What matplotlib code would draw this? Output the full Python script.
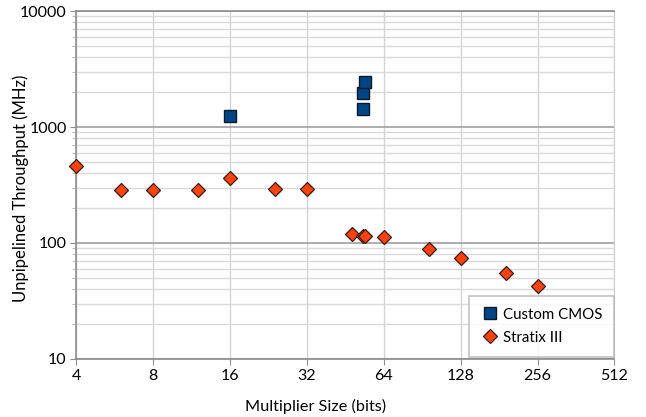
import matplotlib.pyplot as plt
from matplotlib.ticker import FixedLocator, LogLocator, NullFormatter

plt.rcParams['font.family'] = ['Lato', 'DejaVu Sans']

# Multiplier width (bits) vs. unpipelined throughput (MHz)
cmos_bits = [16, 53, 53, 54]
cmos_mhz = [1236, 1420, 1950, 2460]

stratix_bits = [4, 6, 8, 12, 16, 24, 32, 48, 53, 54, 64, 96, 128, 192, 256]
stratix_mhz = [464, 288, 288, 288, 363, 294, 294, 119, 116, 116, 113, 89, 74, 55, 43]

x_ticks = [4, 8, 16, 32, 64, 128, 256, 512]
y_ticks = [10, 100, 1000, 10000]

fig = plt.figure(figsize=(6.46, 4.17), dpi=100)
ax = fig.add_axes([0.1184, 0.1391, 0.8328, 0.8345])

ax.set_xscale('log', base=2)
ax.set_yscale('log')
ax.set_xlim(4, 512)
ax.set_ylim(10, 10000)

ax.xaxis.set_major_locator(FixedLocator(x_ticks))
ax.set_xticklabels([str(v) for v in x_ticks])
ax.xaxis.set_minor_locator(FixedLocator([]))
ax.yaxis.set_major_locator(FixedLocator(y_ticks))
ax.set_yticklabels([str(v) for v in y_ticks])
ax.yaxis.set_minor_locator(LogLocator(base=10, subs=range(2, 10)))
ax.yaxis.set_minor_formatter(NullFormatter())

ax.grid(True, axis='x', which='major', color='#d4d4d4', lw=1)
ax.grid(True, axis='y', which='major', color='#a0a0a0', lw=1.2)
ax.grid(True, axis='y', which='minor', color='#dadada', lw=1)
ax.set_axisbelow(True)

for side in ['left', 'bottom', 'top']:
    ax.spines[side].set_color('#8c8c8c')
    ax.spines[side].set_linewidth(1.2)
ax.spines['right'].set_color('#cfcfcf')

ax.tick_params(axis='both', which='major', length=4, color='#8c8c8c',
               labelsize=11.5, pad=3)
ax.tick_params(axis='y', which='minor', length=3, color='#b0b0b0')

ax.plot(cmos_bits, cmos_mhz, ls='none', marker='s', ms=8.5,
        mfc='#004586', mec='#0b1a2a', mew=1, label='Custom CMOS',
        zorder=3, clip_on=False)
ax.plot(stratix_bits, stratix_mhz, ls='none', marker='D', ms=6.8,
        mfc='#ff420e', mec='#3a1a10', mew=0.9, label='Stratix III',
        zorder=3, clip_on=False)

# axis titles placed in figure pixels
fig.text(315.5 / 646, 1 - 406 / 417, 'Multiplier Size (bits)',
         fontsize=11.7, ha='center', va='center')
fig.text(21 / 646, 1 - 188 / 417, 'Unpipelined Throughput (MHz)',
         fontsize=12.0, ha='center', va='center', rotation=90)

leg = ax.legend(loc='lower right', bbox_to_anchor=(1.0, 0.007),
                borderaxespad=0, fontsize=10.8,
                frameon=True, fancybox=False, edgecolor='#b3b3b3',
                handletextpad=0.3, borderpad=0.8, labelspacing=0.6,
                handlelength=1.2)
leg.get_frame().set_linewidth(1.2)
leg.set_zorder(5)

fig.savefig('out.png', dpi=100)
